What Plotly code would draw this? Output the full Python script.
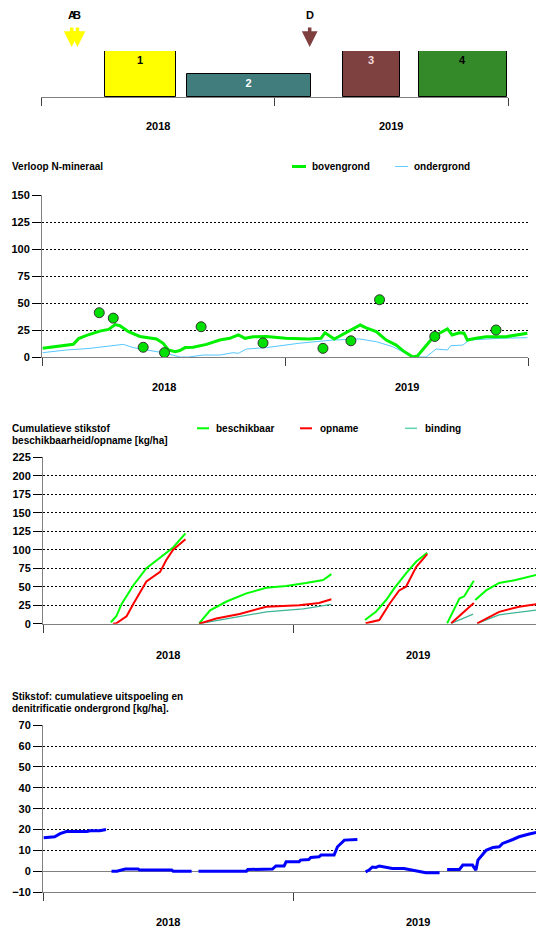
import plotly.graph_objects as go

W, H = 536, 929

# ---- Teeltplan (crops) ----
gewas_labels = ["1", "2", "3", "4"]
gewas_start = [100, 228, 472, 591]
gewas_eind = [211, 422, 561, 728]
gewas_hoogte = [2, 1, 2, 2]
gewas_kleur = ["#ffff00", "#417d7d", "#7f4040", "#348a28"]
gewas_tekstkleur = ["#000000", "#ffffff", "#f4dcdc", "#000000"]

# ---- Bemesting events ----
event_labels = ["A", "B", "D"]
event_dag = [48, 57, 420]
event_kleur = ["#ffff00", "#ffff00", "#7f3f3f"]

jaren = ["2018", "2019"]
jaar_midden = [182.5, 547.5]

# ---- Verloop N-mineraal ----
boven_dag = [1, 22, 47, 55, 67, 87, 100, 110, 117, 130, 147, 172, 182, 190, 200, 207, 215, 227,
             247, 267, 282, 295, 305, 317, 337, 366, 401, 419, 425, 439, 457, 469, 478, 487,
             502, 517, 532, 544, 557, 564, 574, 587, 597, 609, 616, 627, 634, 639, 652, 667,
             697, 729]
boven_n = [8, 9.6, 11.7, 17, 20, 24, 25.6, 30, 29, 23.5, 19, 16.7, 12.7, 6.5, 5, 6, 8.7, 9,
           11.7, 15.7, 17.3, 20.4, 17.3, 18.8, 19, 17.3, 16.7, 17.3, 22.5, 16.7, 22.5, 26.5,
           29.6, 27, 23.5, 15.7, 11, 5, 0, 1, 8, 17.9, 22, 26, 20.4, 22.5, 22, 15.7, 17.3,
           18.8, 18.8, 22]
onder_dag = [1, 37, 72, 102, 122, 137, 162, 187, 207, 220, 242, 267, 287, 295, 307, 337, 386,
             437, 477, 502, 527, 547, 557, 577, 592, 609, 614, 632, 642, 687, 729]
onder_n = [4, 6.5, 8, 10, 11.7, 8.7, 5.9, 3.4, 0, 0, 1.8, 1.8, 4, 3.4, 7.4, 8.7, 12.7, 15.7,
           16.7, 14.2, 9.5, 3.4, 0, 0, 7.4, 6.5, 10.5, 11, 15.7, 17.3, 17.9]
meting_dag = [86, 107, 152, 184, 239, 332, 422, 464, 507, 590, 682]
meting_n = [41, 36, 9, 4, 28, 13, 8, 15, 53, 19, 25]

# ---- Cumulatieve stikstof beschikbaarheid / opname ----
beschikbaar_dag = [[99, 107, 115, 132, 151, 171, 190, 208],
                   [228, 244, 268, 297, 326, 355, 384, 409, 421],
                   [470, 486, 501, 513, 530, 545, 561],
                   [590, 600, 608, 615, 629],
                   [631, 647, 666, 690, 725]]
beschikbaar = [[2, 10, 27, 52, 75, 90, 103, 122],
               [0.5, 18, 30, 41, 48.5, 51, 55, 59, 67],
               [5, 16, 32, 48, 68, 84, 96],
               [0.5, 18, 34, 37, 58],
               [32, 45, 55, 59, 67]]
opname_dag = [[102, 107, 122, 132, 151, 171, 180, 190, 208],
              [228, 253, 287, 317, 326, 374, 403, 421],
              [471, 491, 506, 520, 530, 545, 561],
              [596, 613, 629],
              [634, 647, 666, 695, 725]]
opname = [[0, 0.5, 10, 27, 57, 70, 86, 100, 114],
          [0, 7, 13, 21, 23, 25, 28, 33],
          [0.5, 5, 27, 45, 50, 77, 94],
          [0.5, 14, 28],
          [0.5, 7, 16, 23, 27]]
binding_dag = [[228, 260, 290, 326, 380, 421],
               [596, 628],
               [634, 666, 725]]
binding = [[0, 5, 10, 16, 20, 26],
           [0.5, 13],
           [0.5, 12, 19]]

# ---- Cumulatieve uitspoeling en denitrificatie ----
uitsp_dag = [[1, 17, 25, 34, 64, 69, 83, 92],
             [100, 108, 120, 139, 141, 188, 190, 217],
             [227, 297, 299, 331, 335, 340, 352, 355, 374, 376, 388, 391, 403, 406, 425, 430,
              440, 459],
             [471, 476, 481, 486, 491, 510, 527, 540, 559, 579],
             [590, 608, 613, 627, 632, 635, 647, 657, 666, 671, 686, 695, 710, 725]]
uitsp = [[16, 16.5, 18, 19, 19, 19.4, 19.4, 20],
         [0, 0, 1, 1, 0.5, 0.5, 0, 0],
         [0, 0, 0.8, 1, 1, 2.5, 2.5, 4.5, 4.5, 5.3, 5.6, 6.6, 6.9, 7.7, 7.7, 11.7, 14.9, 15.2],
         [-0.3, 0.5, 2, 1.8, 2.5, 1.3, 1.3, 0.5, -0.8, -0.8],
         [0.8, 0.8, 2.9, 2.9, 0.5, 5.3, 10, 11.4, 11.7, 13.3, 15.2, 16.5, 17.8, 19]]


def flatten(segs):
    out = []
    for i, s in enumerate(segs):
        if i:
            out.append(None)
        out.extend(s)
    return out


def py(y):
    return 1 - y / H


FONT = "Liberation Sans, Arial, sans-serif"
fig = go.Figure()

# panel 1: crop bars
fig.add_trace(go.Bar(
    x=[(s + e) / 2 for s, e in zip(gewas_start, gewas_eind)],
    width=[e - s for s, e in zip(gewas_start, gewas_eind)],
    y=gewas_hoogte, base=0,
    marker=dict(color=gewas_kleur, line=dict(color="#000000", width=1)),
    text=[f"<b>{t}</b>" for t in gewas_labels], textposition="inside",
    insidetextanchor="end", textangle=0,
    textfont=dict(color=gewas_tekstkleur, size=11, family=FONT),
    xaxis="x", yaxis="y", showlegend=False, hoverinfo="skip"))

# panel 2
fig.add_trace(go.Scatter(x=onder_dag, y=onder_n, mode="lines",
                         line=dict(color="#55c8ff", width=1), xaxis="x2", yaxis="y2",
                         showlegend=False))
fig.add_trace(go.Scatter(x=boven_dag, y=boven_n, mode="lines",
                         line=dict(color="#00f000", width=3), xaxis="x2", yaxis="y2",
                         showlegend=False))
fig.add_trace(go.Scatter(x=meting_dag, y=meting_n, mode="markers",
                         marker=dict(color="#00e000", size=10,
                                     line=dict(color="#333333", width=1)),
                         xaxis="x2", yaxis="y2", showlegend=False))

# panel 3
fig.add_trace(go.Scatter(x=flatten(binding_dag), y=flatten(binding), mode="lines",
                         line=dict(color="#3cb496", width=1.2), connectgaps=False,
                         xaxis="x3", yaxis="y3", showlegend=False))
fig.add_trace(go.Scatter(x=flatten(beschikbaar_dag), y=flatten(beschikbaar), mode="lines",
                         line=dict(color="#00ff00", width=2), connectgaps=False,
                         xaxis="x3", yaxis="y3", showlegend=False))
fig.add_trace(go.Scatter(x=flatten(opname_dag), y=flatten(opname), mode="lines",
                         line=dict(color="#ff0000", width=2), connectgaps=False,
                         xaxis="x3", yaxis="y3", showlegend=False))

# panel 4
fig.add_trace(go.Scatter(x=flatten(uitsp_dag), y=flatten(uitsp), mode="lines",
                         line=dict(color="#0000ff", width=3), connectgaps=False,
                         xaxis="x4", yaxis="y4", showlegend=False))

tickfont = dict(family=FONT, size=11, color="#000000", weight="bold")
xcommon = dict(showline=True, linecolor="#808080", linewidth=1, ticks="outside",
               tickvals=[0, 365, 730], ticklen=8, tickcolor="#404040",
               showticklabels=False, showgrid=False, zeroline=False, fixedrange=True,
               automargin=False)
ycommon = dict(showline=True, linecolor="#808080", linewidth=1, ticks="outside",
               ticklen=9, tickcolor="#000000", tickfont=tickfont, showgrid=True,
               gridcolor="#000000", griddash="2px,2px", gridwidth=1, zeroline=False,
               fixedrange=True, automargin=False)

x3_max = 730 * (W - 43) / 500

fig.update_layout(
    width=W, height=H, margin=dict(l=0, r=0, t=0, b=0, pad=0, autoexpand=False),
    paper_bgcolor="#ffffff", plot_bgcolor="#ffffff",
    font=dict(family=FONT, size=10, color="#000000"),
    bargap=0,
    xaxis=dict(domain=[41 / W, 508 / W], range=[0, 730], anchor="y", **xcommon),
    yaxis=dict(domain=[py(97), py(51)], range=[0, 2], visible=False, fixedrange=True),
    xaxis2=dict(domain=[42 / W, 528 / W], range=[0, 730], anchor="y2", **xcommon),
    yaxis2=dict(domain=[py(357), py(195)], range=[0, 150], tickvals=list(range(0, 151, 25)),
                anchor="x2", **ycommon),
    xaxis3=dict(domain=[43 / W, 1], range=[0, x3_max], anchor="y3", **xcommon),
    yaxis3=dict(domain=[py(623.7), py(457.2)], range=[0, 225],
                tickvals=list(range(0, 226, 25)), anchor="x3", **ycommon),
    xaxis4=dict(domain=[43 / W, 1], range=[0, x3_max], anchor="y4", **xcommon),
    yaxis4=dict(domain=[py(892), py(725.3)], range=[-10, 70],
                tickvals=list(range(-10, 71, 10)), anchor="x4", **ycommon),
)
fig.update_yaxes(selector=dict(anchor="x4"), zeroline=True, zerolinecolor="#808080",
                 zerolinewidth=1)

ann = []
shapes = []

# event arrows and letters
for lab, d, c in zip(event_labels, event_dag, event_kleur):
    ann.append(dict(x=d, y=py(47), xref="x", yref="paper", text="", showarrow=True,
                    font=dict(size=1), ax=0, ay=-21, arrowhead=2, arrowsize=0.9,
                    arrowwidth=3.5, arrowcolor=c, standoff=0, startstandoff=0))
    ann.append(dict(x=d, y=py(15), xref="x", yref="paper", text=f"<b>{lab}</b>",
                    showarrow=False, yanchor="middle", font=dict(size=11)))

# year labels
for xa, ypix in [("x", 126), ("x2", 387), ("x3", 655), ("x4", 922)]:
    for j, m in zip(jaren, jaar_midden):
        ann.append(dict(x=m, y=py(ypix), xref=xa, yref="paper", text=f"<b>{j}</b>",
                        showarrow=False, yanchor="middle", font=dict(size=11)))

# titles
titles = [("Verloop N-mineraal", 166.5), ("Cumulatieve stikstof", 428.3),
          ("beschikbaarheid/opname [kg/ha]", 440.3),
          ("Stikstof: cumulatieve uitspoeling en", 696.7),
          ("denitrificatie ondergrond [kg/ha].", 708)]
for t, ypix in titles:
    ann.append(dict(x=10 / W, y=py(ypix), xref="paper", yref="paper", text=f"<b>{t}</b>",
                    showarrow=False, xanchor="left", yanchor="middle", font=dict(size=10)))

# legends
legend_items = [
    ("bovengrond", "#00f000", 3, 292, 306, 310, 166.5),
    ("ondergrond", "#66ccff", 1, 395, 408, 412, 166.5),
    ("beschikbaar", "#00ff00", 2, 197, 209, 214, 428.3),
    ("opname", "#ff0000", 2, 300, 312, 318, 428.3),
    ("binding", "#5fd2b0", 1.5, 405, 417, 423, 428.3),
]
for naam, kleur, lw, x0, x1, xt, ypix in legend_items:
    shapes.append(dict(type="line", xref="paper", yref="paper", x0=x0 / W, x1=x1 / W,
                       y0=py(ypix), y1=py(ypix), line=dict(color=kleur, width=lw)))
    ann.append(dict(x=xt / W, y=py(ypix), xref="paper", yref="paper", text=f"<b>{naam}</b>",
                    showarrow=False, xanchor="left", yanchor="middle", font=dict(size=10)))

fig.update_layout(annotations=ann, shapes=shapes)
fig.write_html("out.html")
